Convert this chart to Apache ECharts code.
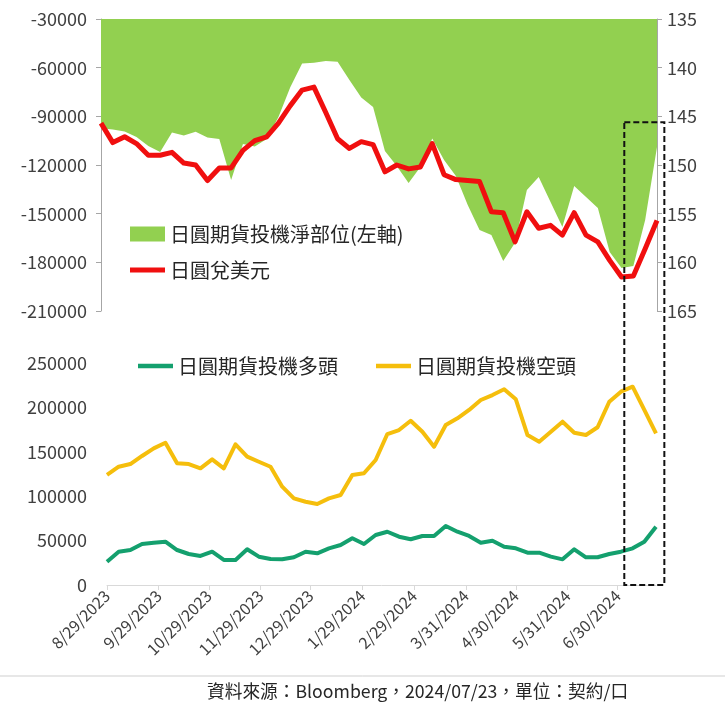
<!DOCTYPE html>
<html>
<head>
<meta charset="utf-8">
<script src="https://cdn.jsdelivr.net/npm/echarts@6/dist/echarts.min.js"></script>
<style>
html,body{margin:0;padding:0;background:#fff;}
#chart{width:725px;height:709px;}
</style>
</head>
<body>
<div id="chart"></div>
<script>
// ---- data ----
const dates = [
  '2023-08-29','2023-09-05','2023-09-12','2023-09-19','2023-09-26',
  '2023-10-03','2023-10-10','2023-10-17','2023-10-24','2023-10-31',
  '2023-11-07','2023-11-14','2023-11-21','2023-11-28',
  '2023-12-05','2023-12-12','2023-12-19','2023-12-26',
  '2024-01-02','2024-01-09','2024-01-16','2024-01-23','2024-01-30',
  '2024-02-06','2024-02-13','2024-02-20','2024-02-27',
  '2024-03-05','2024-03-12','2024-03-19','2024-03-26',
  '2024-04-02','2024-04-09','2024-04-16','2024-04-23','2024-04-30',
  '2024-05-07','2024-05-14','2024-05-21','2024-05-28',
  '2024-06-04','2024-06-11','2024-06-18','2024-06-25',
  '2024-07-02','2024-07-09','2024-07-16','2024-07-23'
];
const netPositions = [
  -97400,-98100,-99300,-102700,-108300,
  -112000,-100000,-101800,-99500,-103000,
  -104000,-129200,-107000,-108600,
  -104000,-90400,-72000,-57500,
  -56900,-55900,-56300,-67600,-78400,
  -84200,-111400,-120600,-131100,
  -121200,-103700,-116900,-126800,
  -144600,-160100,-163100,-179200,-168000,
  -135400,-127400,-142800,-158200,
  -132900,-139700,-146500,-173600,
  -183500,-182300,-153900,-108900
];
const usdJpy = [
  145.7,147.7,147.1,147.8,149.0,
  149.0,148.7,149.8,150.0,151.6,
  150.3,150.3,148.5,147.5,
  147.1,145.7,143.9,142.3,
  142.0,144.6,147.3,148.3,147.6,
  147.9,150.7,150.0,150.4,
  150.2,147.8,151.0,151.5,
  151.6,151.7,154.8,154.9,157.9,
  154.8,156.5,156.2,157.2,
  154.9,157.2,157.9,159.8,
  161.5,161.4,158.6,155.7
];
const longs = [
  26200,37500,39400,46200,47600,
  48800,39400,34900,32700,37500,
  28200,28200,40200,31900,
  29300,28900,31200,37500,
  35700,41300,45000,52600,46200,
  56300,60000,54400,51500,
  55200,55200,66400,60000,
  55200,47600,49900,43100,41300,
  36400,36400,31900,28900,
  40200,31200,31200,34900,
  37500,41300,48800,65600
];
const shorts = [
  123900,133200,136200,145300,153900,
  160200,137000,136200,131400,141500,
  131400,158400,144500,138800,
  133200,110700,97600,93800,
  91200,97600,101300,123900,125800,
  140800,170000,174500,185000,
  172600,155700,180200,187700,
  197100,208300,213900,220400,209100,
  168900,161400,172600,183900,
  171500,168900,177600,206400,
  217700,223300,197100,170800
];
const xTickDates = [
  '2023-08-29','2023-09-29','2023-10-29','2023-11-29','2023-12-29',
  '2024-01-29','2024-02-29','2024-03-31','2024-04-30','2024-05-31','2024-06-30'
];
const names = {
  net: '日圓期貨投機淨部位(左軸)',
  fx: '日圓兌美元',
  long: '日圓期貨投機多頭',
  short: '日圓期貨投機空頭'
};
const sourceText = '資料來源：Bloomberg，2024/07/23，單位：契約/口';

// ---- helpers: x is measured in days from the first date ----
const DAY = 86400000;
function ts(s){ const p = s.split('-').map(Number); return Date.UTC(p[0], p[1]-1, p[2]); }
const t0 = ts(dates[0]);
const dayOf = s => Math.round((ts(s) - t0) / DAY);
const xs = dates.map(dayOf);
const pair = arr => arr.map((v,i) => [xs[i], v]);
const xMin = xs[0], xMax = xs[xs.length-1];
const tickVals = xTickDates.map(dayOf);
function fmtDate(v){ const d = new Date(t0 + v * DAY); return (d.getUTCMonth()+1) + '/' + d.getUTCDate() + '/' + d.getUTCFullYear(); }
const plain = v => String(v);

const FONT = "'Noto Sans CJK TC', 'Noto Sans', sans-serif";
const TXT = '#404040';
const LINE_ICON = 'path://M0,0H36V5H0Z';

const chart = echarts.init(document.getElementById('chart'), null, {renderer:'canvas'});
const option = {
  animation: false,
  backgroundColor: '#ffffff',
  textStyle: { fontFamily: FONT },
  grid: [
    { left: 101, right: 68, top: 19, height: 292 },
    { left: 107, right: 69, top: 363, height: 222 }
  ],
  xAxis: [
    { type: 'value', gridIndex: 0, min: xMin, max: xMax, show: false, splitLine: { show: false } },
    { type: 'value', gridIndex: 1, min: xMin, max: xMax,
      axisLine: { show: true, onZero: false, lineStyle: { color: '#d9d9d9', width: 1 } },
      axisTick: { show: true, length: 5, lineStyle: { color: '#d9d9d9' }, customValues: tickVals },
      splitLine: { show: false },
      axisLabel: { customValues: tickVals, rotate: 45, formatter: fmtDate, color: TXT,
                   fontSize: 16, fontFamily: FONT, margin: 8 }
    }
  ],
  yAxis: [
    { type: 'value', gridIndex: 0, min: -210000, max: -30000, interval: 30000,
      axisLine: { show: true, onZero: false, lineStyle: { color: '#a6a6a6' } },
      axisTick: { show: true, length: 5, lineStyle: { color: '#a6a6a6' } },
      splitLine: { show: false },
      axisLabel: { color: TXT, fontSize: 18, margin: 14, formatter: plain }
    },
    { type: 'value', gridIndex: 0, position: 'right', inverse: true, min: 135, max: 165, interval: 5,
      axisLine: { show: true, onZero: false, lineStyle: { color: '#a6a6a6' } },
      axisTick: { show: true, length: 5, lineStyle: { color: '#a6a6a6' } },
      splitLine: { show: false },
      axisLabel: { color: TXT, fontSize: 18, margin: 10, formatter: plain }
    },
    { type: 'value', gridIndex: 1, min: 0, max: 250000, interval: 50000,
      axisLine: { show: false }, axisTick: { show: false }, splitLine: { show: false },
      axisLabel: { color: TXT, fontSize: 18, margin: 20, formatter: plain }
    }
  ],
  legend: [
    { orient: 'vertical', left: 130, top: 224, padding: 0, itemWidth: 35, itemHeight: 15, itemGap: 16,
      textStyle: { fontSize: 20, color: '#262626', fontFamily: FONT },
      data: [ { name: names.net, icon: 'rect' }, { name: names.fx, icon: LINE_ICON } ] },
    { orient: 'horizontal', left: 138, top: 356, padding: 0, itemWidth: 35, itemHeight: 15, itemGap: 38,
      textStyle: { fontSize: 20, color: '#262626', fontFamily: FONT },
      data: [ { name: names.long, icon: 'path://M0,0H36V4.5H0Z' }, { name: names.short, icon: 'path://M0,0H36V4.5H0Z' } ] }
  ],
  series: [
    { name: names.net, type: 'line', xAxisIndex: 0, yAxisIndex: 0, data: pair(netPositions),
      symbol: 'none', color: '#92D050',
      lineStyle: { width: 0, color: '#92D050' },
      areaStyle: { color: '#92D050', opacity: 1, origin: 'end' }, z: 1 },
    { name: names.fx, type: 'line', xAxisIndex: 0, yAxisIndex: 1, data: pair(usdJpy),
      symbol: 'none', color: '#F00F0F',
      lineStyle: { width: 5, color: '#F00F0F', join: 'round' }, z: 3 },
    { name: names.long, type: 'line', xAxisIndex: 1, yAxisIndex: 2, data: pair(longs),
      symbol: 'none', color: '#14A06E',
      lineStyle: { width: 4, color: '#14A06E', join: 'round' } },
    { name: names.short, type: 'line', xAxisIndex: 1, yAxisIndex: 2, data: pair(shorts),
      symbol: 'none', color: '#F5BE0C',
      lineStyle: { width: 4, color: '#F5BE0C', join: 'round' } }
  ]
};
chart.setOption(option);

// annotation: dashed box around the latest weeks, positioned through the axes
const bx1 = chart.convertToPixel({ xAxisIndex: 1 }, dayOf('2024-07-04'));
const bx2 = chart.convertToPixel({ xAxisIndex: 1 }, dayOf('2024-07-28'));
const by1 = chart.convertToPixel({ yAxisIndex: 1 }, 145.6);
const by2 = chart.convertToPixel({ yAxisIndex: 2 }, 0);
chart.setOption({
  graphic: [
    { type: 'rect', shape: { x: bx1, y: by1, width: bx2 - bx1, height: by2 - by1 },
      style: { fill: 'none', stroke: '#111', lineWidth: 2, lineDash: [6, 3] }, z: 100 },
    { type: 'line', shape: { x1: 0, y1: 676, x2: 725, y2: 676 },
      style: { stroke: '#cfcfcf', lineWidth: 1 } },
    { type: 'text', left: 207, top: 682,
      style: { text: sourceText, fontSize: 17.7, fill: '#262626', fontFamily: FONT } }
  ]
});
</script>
</body>
</html>
